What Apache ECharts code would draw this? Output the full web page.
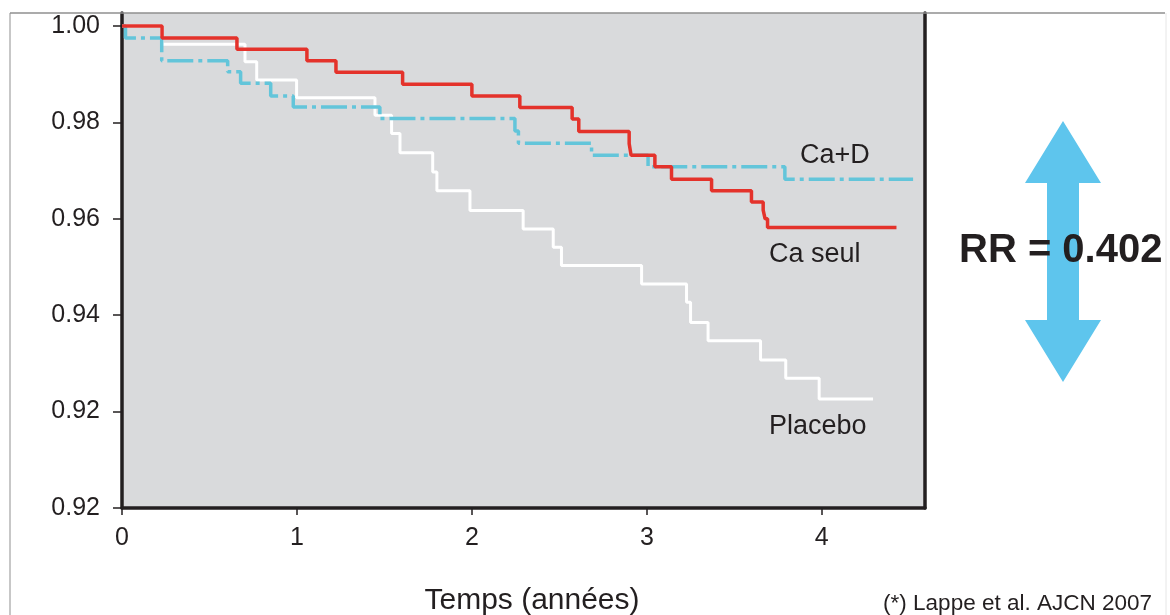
<!DOCTYPE html>
<html>
<head>
<meta charset="utf-8">
<script src="https://cdn.jsdelivr.net/npm/echarts@6/dist/echarts.min.js"></script>
<style>
  html, body { margin: 0; padding: 0; background: #ffffff; }
  #chart { width: 1170px; height: 615px; }
</style>
</head>
<body>
<div id="chart"></div>
<script>
// ---- Data (Kaplan-Meier survival, [years, survival]) ----
const caSeul = [[0,1.0],[0.229,0.9975],[0.657,0.9952],[1.057,0.9928],[1.223,0.9904],[1.604,0.9879],[2.0,0.9855],[2.274,0.9831],[2.573,0.9807],[2.611,0.9781],[2.899,0.9756],[2.91,0.9732],[3.046,0.9708],[3.141,0.9682],[3.37,0.9658],[3.598,0.9635],[3.665,0.9618],[3.676,0.9600],[3.69,0.9582],[4.427,0.9582]];
const caD = [[0,1.0],[0.02,0.9975],[0.227,0.9928],[0.604,0.9905],[0.678,0.9881],[0.85,0.9855],[0.979,0.9832],[1.474,0.9808],[2.246,0.9782],[2.266,0.9757],[2.684,0.9732],[3.007,0.9708],[3.789,0.9682],[4.522,0.9682]];
const placebo = [[0,1.0],[0.229,0.9962],[0.703,0.9926],[0.77,0.9888],[0.998,0.9851],[1.446,0.9815],[1.541,0.9777],[1.589,0.9737],[1.776,0.9697],[1.8,0.9658],[1.989,0.9617],[2.293,0.9579],[2.465,0.9541],[2.512,0.9503],[2.97,0.9465],[3.227,0.9427],[3.25,0.9385],[3.35,0.9347],[3.65,0.9307],[3.794,0.9269],[3.985,0.9226],[4.293,0.9226]];

const xTicks = [0, 1, 2, 3, 4];
const yTicks = [0.90, 0.92, 0.94, 0.96, 0.98, 1.00];
const yTickLabels = ['0.92', '0.92', '0.94', '0.96', '0.98', '1.00'];

const seriesNames = ['Placebo', 'Ca+D', 'Ca seul'];
const xTitle = 'Temps (années)';
const rrText = 'RR = 0.402';
const footnote = '(*) Lappe et al. AJCN 2007';

// ---- Styles ----
const FONT = '"Liberation Sans", Arial, Helvetica, sans-serif';
const TXT = '#231f20';
const RED = '#e4322b';
const CYAN = '#63c5da';
const ARROW = '#5ec5ed';
const BG = '#d9dadc';
const AXIS = '#231f20';

const chart = echarts.init(document.getElementById('chart'), null, { renderer: 'canvas' });

function yLabel(v) {
  for (let i = 0; i < yTicks.length; i++) {
    if (Math.abs(yTicks[i] - v) < 1e-6) return yTickLabels[i];
  }
  return '';
}

const option = {
  animation: false,
  backgroundColor: '#ffffff',
  grid: {
    left: 122, right: 245, top: 13, bottom: 107,
    show: true, backgroundColor: BG, borderWidth: 0
  },
  xAxis: {
    type: 'value', min: 0, max: 4.59,
    axisLine: { show: true, onZero: false, lineStyle: { color: AXIS, width: 3.5 } },
    axisTick: { show: true, length: 7, customValues: xTicks, lineStyle: { color: AXIS, width: 1.5 } },
    axisLabel: { customValues: xTicks, margin: 18, fontFamily: FONT, fontSize: 25, color: TXT },
    splitLine: { show: false }
  },
  yAxis: [{
    type: 'value', min: 0.9, max: 1.0027,
    axisLine: { show: true, onZero: false, lineStyle: { color: AXIS, width: 3.5 } },
    axisTick: { show: true, length: 9, customValues: yTicks, lineStyle: { color: AXIS, width: 1.5 } },
    axisLabel: { customValues: yTicks, margin: 22, fontFamily: FONT, fontSize: 25, color: TXT, formatter: yLabel },
    splitLine: { show: false }
  }, {
    type: 'value', min: 0.9, max: 1.0027, position: 'right',
    axisLine: { show: true, onZero: false, lineStyle: { color: AXIS, width: 3.5 } },
    axisTick: { show: false }, axisLabel: { show: false }, splitLine: { show: false }
  }],
  series: [
    {
      name: seriesNames[0], type: 'line', step: 'end', data: placebo, showSymbol: false, z: 2,
      lineStyle: { color: '#ffffff', width: 3 }
    },
    {
      name: seriesNames[1], type: 'line', step: 'end', data: caD, showSymbol: false, z: 3,
      lineStyle: { color: CYAN, width: 3.5, type: [26, 5, 4, 5], cap: 'butt' }
    },
    {
      name: seriesNames[2], type: 'line', step: 'end', data: caSeul, showSymbol: false, z: 4,
      lineStyle: { color: RED, width: 3.5 }
    }
  ],
  graphic: [
    // outer frame lines
    { type: 'line', shape: { x1: 10, y1: 13, x2: 1165, y2: 13 }, style: { stroke: '#8f8f8f', lineWidth: 1.5 }, z: 100 },
    { type: 'line', shape: { x1: 10, y1: 13, x2: 10, y2: 615 }, style: { stroke: '#8f8f8f', lineWidth: 1 }, z: 100 },
    { type: 'line', shape: { x1: 1166, y1: 13, x2: 1166, y2: 615 }, style: { stroke: '#e6e6e6', lineWidth: 1 }, z: 100 },
    // series labels
    { type: 'text', x: 800, y: 156, style: { text: seriesNames[1], font: '27px ' + FONT, fill: TXT, textAlign: 'left', textVerticalAlign: 'middle' }, z: 100 },
    { type: 'text', x: 769, y: 255, style: { text: seriesNames[2], font: '27px ' + FONT, fill: TXT, textAlign: 'left', textVerticalAlign: 'middle' }, z: 100 },
    { type: 'text', x: 769, y: 427, style: { text: seriesNames[0], font: '27px ' + FONT, fill: TXT, textAlign: 'left', textVerticalAlign: 'middle' }, z: 100 },
    // double arrow
    { type: 'polygon', shape: { points: [[1063,121],[1101,183],[1079,183],[1079,320],[1101,320],[1063,382],[1025,320],[1047,320],[1047,183],[1025,183]] }, style: { fill: ARROW }, z: 90 },
    { type: 'text', x: 959, y: 251, style: { text: rrText, font: 'bold 40px ' + FONT, fill: TXT, textAlign: 'left', textVerticalAlign: 'middle' }, z: 100 },
    // axis title & footnote
    { type: 'text', x: 532, y: 601, style: { text: xTitle, font: '30px ' + FONT, fill: TXT, textAlign: 'center', textVerticalAlign: 'middle' }, z: 100 },
    { type: 'text', x: 1152, y: 604, style: { text: footnote, font: '22.5px ' + FONT, fill: TXT, textAlign: 'right', textVerticalAlign: 'middle' }, z: 100 }
  ]
};

chart.setOption(option);
</script>
</body>
</html>
